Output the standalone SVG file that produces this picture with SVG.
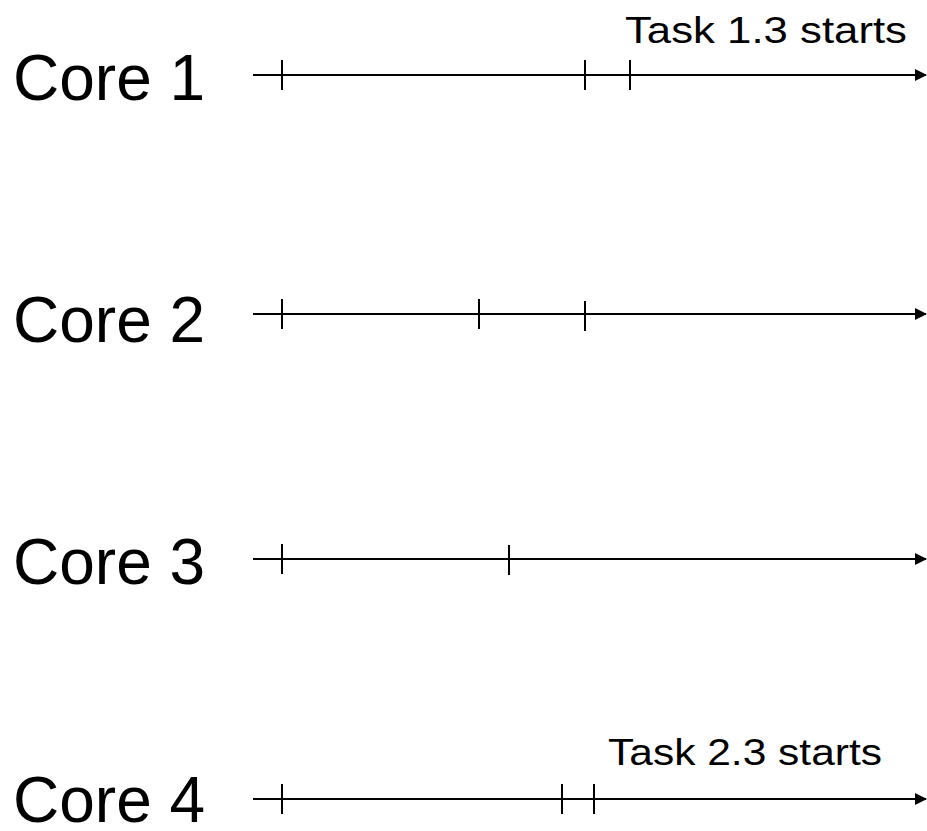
<svg xmlns="http://www.w3.org/2000/svg" width="927" height="831" viewBox="0 0 927 831">
  <style>
    .label { font-family: "Liberation Sans", Arial, sans-serif; font-size: 64px; fill: #000; }
    .note { font-family: "Liberation Sans", Arial, sans-serif; font-size: 36px; fill: #000; }
    .axis { stroke: #000; stroke-width: 2; fill: none; }
    .tick { stroke: #000; stroke-width: 2; }
  </style>
  <defs>
    <marker id="arrow" markerWidth="12" markerHeight="12" refX="11" refY="6" orient="auto" markerUnits="userSpaceOnUse">
      <path d="M0,0 L12,6 L0,12 Z" fill="#000"/>
    </marker>
  </defs>
  <rect width="927" height="831" fill="#fff"/>

  <g id="core1">
    <text class="label" x="13" y="100">Core 1</text>
  </g>
  <g id="core2">
    <text class="label" x="13" y="342">Core 2</text>
  </g>
  <g id="core3">
    <text class="label" x="13" y="584">Core 3</text>
  </g>
  <g id="core4">
    <text class="label" x="13" y="822">Core 4</text>
  </g>
  <g id="note1">
    <text class="note" x="625" y="43" textLength="282" lengthAdjust="spacingAndGlyphs">Task 1.3 starts</text>
  </g>
  <g id="note2">
    <text class="note" x="608" y="765" textLength="274" lengthAdjust="spacingAndGlyphs">Task 2.3 starts</text>
  </g>

  <g id="connectors">
    <!-- timelines -->
    <line class="axis" x1="253" y1="75" x2="926" y2="75" marker-end="url(#arrow)"/>
    <line class="axis" x1="253" y1="314" x2="926" y2="314" marker-end="url(#arrow)"/>
    <line class="axis" x1="253" y1="559" x2="926" y2="559" marker-end="url(#arrow)"/>
    <line class="axis" x1="253" y1="799" x2="926" y2="799" marker-end="url(#arrow)"/>
    <!-- event ticks -->
    <line class="tick" x1="282" y1="60" x2="282" y2="90"/>
    <line class="tick" x1="585" y1="60" x2="585" y2="90"/>
    <line class="tick" x1="630" y1="60" x2="630" y2="90"/>
    <line class="tick" x1="282" y1="299" x2="282" y2="329"/>
    <line class="tick" x1="479" y1="299" x2="479" y2="329"/>
    <line class="tick" x1="585" y1="301" x2="585" y2="331"/>
    <line class="tick" x1="282" y1="544" x2="282" y2="574"/>
    <line class="tick" x1="509" y1="545" x2="509" y2="575"/>
    <line class="tick" x1="282" y1="784" x2="282" y2="814"/>
    <line class="tick" x1="562" y1="784" x2="562" y2="814"/>
    <line class="tick" x1="594" y1="784" x2="594" y2="814"/>
  </g>
</svg>
